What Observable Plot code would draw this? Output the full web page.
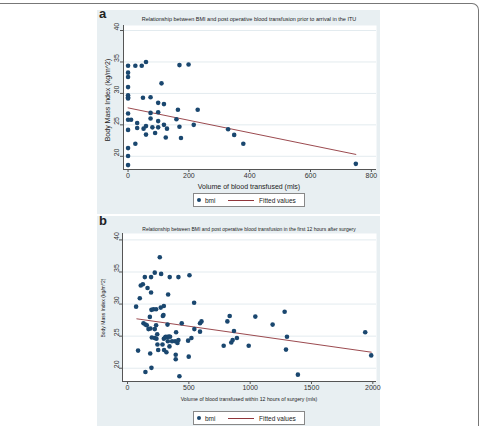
<!DOCTYPE html>
<html><head><meta charset="utf-8">
<script src="https://cdn.jsdelivr.net/npm/d3@7"></script>
<script src="https://cdn.jsdelivr.net/npm/@observablehq/plot@0.6"></script>
<style>
body{margin:0;background:#fff;font-family:"Liberation Sans",Arial,sans-serif;color:#222;}
#root{position:relative;width:484px;height:426px;overflow:hidden;}
.abs{position:absolute;white-space:nowrap;}
.frame{position:absolute;left:-10px;top:3px;width:489px;height:440px;border-top:1px solid #777;border-right:1px solid #777;border-top-right-radius:7px;box-sizing:border-box;}
.bg{position:absolute;background:#e8eff2;}
.ctr{transform:translate(-50%,-50%);}
.rot{transform:translate(-50%,-50%) rotate(-90deg);}
.lab{font-weight:bold;font-size:13px;}
.legend{position:absolute;background:#fff;border:1px solid #888;box-sizing:border-box;font-size:6.5px;}
.legend span{position:absolute;}
</style></head>
<body><div id="root">
<div class="frame"></div>
<div class="bg" style="left:97px;top:10px;width:283px;height:204px;"></div>
<div class="bg" style="left:97px;top:216px;width:283px;height:215px;"></div>
<div class="abs lab" style="left:99px;top:6px;">a</div>
<div class="abs lab" style="left:99px;top:213px;">b</div>
<div class="abs ctr" style="left:249px;top:19px;font-size:5.5px;">Relationship between BMI and post operative blood transfusion prior to arrival in the ITU</div>
<div class="abs ctr" style="left:249px;top:229px;font-size:5px;">Relationship between BMI and post operative blood transfusion in the first 12 hours after surgery</div>
<div class="abs rot" style="left:107px;top:100px;font-size:7px;">Body Mass Index (kg/m^2)</div>
<div class="abs rot" style="left:103px;top:308px;font-size:5px;">Body Mass Index (kg/m^2)</div>
<div class="abs ctr" style="left:249px;top:186px;font-size:7px;">Volume of blood transfused (mls)</div>
<div class="abs ctr" style="left:249px;top:399px;font-size:5.2px;">Volume of blood transfused within 12 hours of surgery (mls)</div>
<div id="pa" class="abs" style="left:97px;top:22px;"></div>
<div id="pb" class="abs" style="left:97px;top:230px;"></div>
<div class="legend" style="left:193px;top:193px;width:112px;height:14px;">
 <span style="left:3px;top:4px;width:4px;height:4px;border-radius:50%;background:#1a476f;"></span>
 <span style="left:11px;top:2.5px;">bmi</span>
 <span style="left:34px;top:6px;width:26px;height:0;border-top:1px solid #90353b;"></span>
 <span style="left:65px;top:2.5px;">Fitted values</span>
</div>
<div class="legend" style="left:193px;top:411px;width:112px;height:14px;">
 <span style="left:3px;top:4px;width:4px;height:4px;border-radius:50%;background:#1a476f;"></span>
 <span style="left:11px;top:2.5px;">bmi</span>
 <span style="left:34px;top:6px;width:26px;height:0;border-top:1px solid #90353b;"></span>
 <span style="left:65px;top:2.5px;">Fitted values</span>
</div>
</div>
<script>
// Panel a: blood transfused prior to arrival in ITU (mls) vs BMI
const aVolume = [0,0,0,0,0,0,0,0,0,0,0,0,0,10,24,24,30,30,45,49,51,59,59,59,74,74,74,80,89,99,99,99,99,110,118,118,124,128,159,164,169,169,174,199,216,229,329,349,379,749];
const aBmi = [34.4,33.3,32.6,31.0,29.7,29.4,29.2,26.8,25.8,24.2,21.3,20.05,18.6,25.8,34.4,22.0,25.3,24.5,34.4,29.3,24.4,35.0,24.8,23.45,29.4,26.9,26.0,24.6,23.7,28.5,27.0,25.6,24.6,31.6,28.3,25.0,23.0,24.4,25.9,27.4,34.5,24.7,22.9,34.6,25.0,27.4,24.3,23.4,22.0,18.8];
const aFitVolume = [0, 749];
const aFitBmi = [27.7, 20.3];
const aXTicks = [0, 200, 400, 600, 800];
const yTicks = [20, 25, 30, 35, 40];

// Panel b: blood transfused within 12 hours of surgery (mls) vs BMI
const bVolume = [70,100,86,108,125,141,130,146,146,163,157,171,182,185,192,192,195,195,187,198,211,222,222,222,233,233,236,242,244,250,263,271,274,285,288,296,293,296,298,306,312,317,326,331,323,329,337,342,344,363,347,388,393,393,396,407,415,415,423,442,494,499,505,521,543,545,591,591,603,784,814,833,846,857,868,892,988,1042,1183,1281,1300,1292,1389,1938,1987];
const bBmi = [29.6,30.9,22.75,32.9,33.1,34.2,27.0,26.8,19.4,32.5,26.7,26.1,28.0,22.3,34.2,31.8,29.1,20.06,26.2,24.8,29.2,34.9,26.1,24.7,29.2,26.7,24.6,25.3,23.7,22.85,37.3,29.45,34.7,23.7,28.15,29.7,28.3,24.6,22.85,24.8,24.9,22.5,26.8,31.5,24.85,24.2,24.95,23.4,34.2,24.2,24.9,24.2,22.1,21.4,25.6,23.95,34.2,24.4,18.75,27.0,24.3,21.8,34.5,24.7,30.2,26.1,25.7,27.0,27.3,23.5,27.3,28.15,24.0,24.4,25.8,24.7,23.5,28.05,26.8,28.8,24.9,22.9,19.0,25.6,22.0];
const bFitVolume = [76, 1987];
const bFitBmi = [27.7, 22.5];
const bXTicks = [0, 500, 1000, 1500, 2000];

const axisColor = "#555";
function panel(o) {
  const pts = o.xs.map((x, i) => ({x, y: o.ys[i]}));
  const fit = o.fx.map((x, i) => ({x, y: o.fy[i]}));
  return Plot.plot({
    width: 283, height: o.height,
    marginLeft: o.ml, marginRight: 4, marginTop: 3, marginBottom: o.height - 3 - o.fh,
    style: {background: "transparent", fontFamily: "Liberation Sans, Arial, sans-serif", fontSize: "7px", color: "#333", overflow: "visible"},
    x: {domain: o.xDomain},
    y: {domain: o.yDomain},
    marks: [
      Plot.frame({fill: "white", stroke: "none"}),
      Plot.gridY(yTicks, {stroke: "#e3ebef", strokeOpacity: 1, strokeWidth: 1}),
      Plot.axisX(o.xTicks, {tickSize: 3, tickPadding: 1, label: null, tickFormat: d => String(d), stroke: axisColor, fill: "#333"}),
      Plot.axisY(yTicks, {tickSize: 3, tickFormat: () => "", label: null, stroke: axisColor}),
      Plot.text(yTicks, {y: d => d, text: d => String(d), frameAnchor: "left", dx: -o.ydx, rotate: -90, lineAnchor: "bottom", fill: "#333"}),
      Plot.ruleX([o.xDomain[0]], {stroke: axisColor}),
      Plot.ruleY([o.yDomain[0]], {stroke: axisColor}),
      Plot.line(fit, {x: "x", y: "y", stroke: "#90353b", strokeWidth: 0.9}),
      Plot.dot(pts, {x: "x", y: "y", r: 2.3, fill: "#1a476f", stroke: "none"})
    ]
  });
}
document.getElementById("pa").append(panel({
  xs: aVolume, ys: aBmi, fx: aFitVolume, fy: aFitBmi, xTicks: aXTicks,
  xDomain: [-15, 817], yDomain: [17.9, 40.8], height: 160, ml: 26, fh: 144, ydx: 5
}));
document.getElementById("pb").append(panel({
  xs: bVolume, ys: bBmi, fx: bFitVolume, fy: bFitBmi, xTicks: bXTicks,
  xDomain: [-41, 2030], yDomain: [17.93, 41], height: 163, ml: 25, fh: 148, ydx: 4
}));
</script>
</body></html>
